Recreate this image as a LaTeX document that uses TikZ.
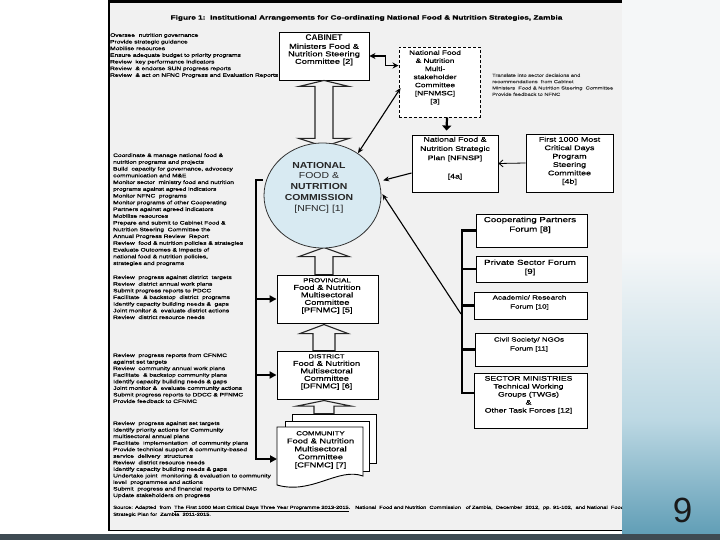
\documentclass[tikz,border=0pt]{standalone}
\usepackage{fontspec}
\setmainfont{Liberation Sans}
\newfontfamily\sm[FakeStretch=1.33,FakeBold=0.7]{Liberation Sans}
\newfontfamily\cf[FakeStretch=1.2]{Liberation Sans}
\usetikzlibrary{arrows.meta,shapes.geometric,calc}
\definecolor{panel}{HTML}{F1F1F1}
\definecolor{circfill}{HTML}{D8EAF2}
\definecolor{tealA}{HTML}{5C9BB4}
\definecolor{tealB}{HTML}{BCD8E3}
\definecolor{tealC}{HTML}{F5F7F8}
\definecolor{stripc}{HTML}{3E4B53}
\tikzset{
  frame/.style={draw=black,line width=0.9pt,fill=white,inner sep=0},
  lt/.style={anchor=north west,inner sep=0,align=left},
  bt/.style={inner sep=0,align=center},
  blk/.style={draw=black!85,line width=1.1pt,fill=panel,line join=miter},
  brk/.style={line width=2.7pt},
  arr/.style={line width=1.1pt,-{Stealth[length=6pt,width=5pt]}},
  darr/.style={line width=1.1pt,{Stealth[length=6pt,width=5pt]}-{Stealth[length=6pt,width=5pt]}},
  harr/.style={line width=2pt,-{Triangle[length=7pt,width=7pt]}},
}
\begin{document}
\begin{tikzpicture}[x=1pt,y=-1pt]
\useasboundingbox (0,0) rectangle (720,540);
\fill[white] (0,0) rectangle (720,540);
\fill[tealC] (622,0) rectangle (720,250);
\shade[top color=tealC,bottom color=tealB] (622,250) rectangle (720,420.5);
\shade[top color=tealB,bottom color=tealA] (622,420) rectangle (720,540);
% panel
\fill[panel] (108,0) rectangle (622,530);
\fill[black] (108,0) rectangle (622,3.5);
\draw[line width=1.2pt] (109,0) -- (109,530);
\draw[line width=0.8pt] (108,530) -- (622,530);
\fill[stripc] (0,534) rectangle (720,540);
\node[anchor=base,inner sep=0,font=\fontsize{35}{35}\selectfont,text=black!90] (pnum) at (682.5,522) {9};

% title
\node[bt,font=\sm\bfseries\fontsize{6.2}{7}\selectfont] (title) at (366.5,18) {Figure 1:\ \ Institutional Arrangements for Co-ordinating National Food \& Nutrition Strategies, Zambia};

% left text blocks
\node[lt,font=\sm\fontsize{4.95}{6.67}\selectfont] (gov) at (110,33) {Oversee\ \ nutrition governance\\Provide strategic guidance\\Mobilise resources\\Ensure adequate budget to priority programs\\Review\ \ key performance indicators\\Review\ \ \& endorse SUN progress reports\\Review\ \ \& act on NFNC Progress and Evaluation Reports};
\node[lt,font=\sm\fontsize{4.95}{6.75}\selectfont] (natl) at (113,153.2) {Coordinate \& manage national food \&\\nutrition programs and projects\\Build\ \ capacity for governance, advocacy\\communication and M\&E\\Monitor sector\ \ ministry food and nutrition\\programs against agreed indicators\\Monitor NFNC\ \ programs\\Monitor programs of other Cooperating\\Partners against agreed indicators\\Mobilise resources\\Prepare and submit to Cabinet Food \&\\Nutrition Steering\ \ Committee the\\Annual Progress Review\ \ Report\\Review\ \ food \& nutrition policies \& strategies\\Evaluate Outcomes \& Impacts of\\national food \& nutrition policies,\\strategies and programs};
\node[lt,font=\sm\fontsize{4.95}{6.67}\selectfont] (provtxt) at (113,275.2) {Review\ \ progress against district\ \ targets\\Review\ \ district annual work plans\\Submit progress reports to PDCC\\Facilitate\ \ \& backstop\ \ district\ \ programs\\Identify capacity building needs \&\ \ gaps\\Joint monitor \&\ \ evaluate district actions\\Review\ \ district resource needs};
\node[lt,font=\sm\fontsize{4.95}{6.57}\selectfont] (disttxt) at (113,353.2) {Review\ \ progress reports from CFNMC\\against set targets\\Review\ \ community annual work plans\\Facilitate\ \ \& backstop community plans\\Identify capacity building needs \& gaps\\Joint monitor \&\ \ evaluate community actions\\Submit progress reports to DDCC \& PFNMC\\Provide feedback to CFNMC};
\node[lt,font=\sm\fontsize{4.95}{6.55}\selectfont] (commtxt) at (113,421.2) {Review\ \ progress against set targets\\Identify priority actions for Community\\multisectoral annual plans\\Facilitate\ \ implementation\ \ of community plans\\Provide technical support \& community-based\\service\ \ delivery\ \ structures\\Review\ \ district resource needs\\Identify capacity building needs \& gaps\\Undertake joint\ \ monitoring \& evaluation to community\\level\ \ programmes and actions\\Submit\ \ progress and financial reports to DFNMC\\Update stakeholders on progress};
\begin{scope}
\clip (108,0) rectangle (622,530);
\node[lt,font=\sm\fontsize{4.3}{7}\selectfont] (src) at (113,505.5) {Source: Adapted\ \ from\ \ \underline{The First 1000 Most Critical Days Three Year Programme 2013-2015}.\ \ \ National\ \ Food and Nutrition\ \ Commission\ \ \ of Zambia,\ \ December\ \ 2012,\ \ pp. 91-102,\ \ and National\ \ Food and Nutrition\\Strategic Plan for\ \ Zambia\ \ 2011-2015.};
\end{scope}
\node[lt,font=\sm\fontsize{4.3}{6.33}\selectfont,text=black!75] (trans) at (492,73.5) {Translate into sector decisions and\\recommendations\ \ from Cabinet\\Ministers\ \ Food \& Nutrition Steering\ \ Committee\\Provide feedback to NFNC};

% boxes
\node[frame,minimum width=90,minimum height=48] (cab) at (324,56) {};
\node[frame,dashed,dash pattern=on 3pt off 2pt,minimum width=81,minimum height=70] (nfnmsc) at (439.5,82) {};
\node[frame,minimum width=86,minimum height=57] (nfnsp) at (455,163.5) {};
\node[frame,minimum width=87,minimum height=58] (first) at (569.5,163) {};
\node[frame,minimum width=111,minimum height=33] (coop) at (531.5,230.5) {};
\node[frame,minimum width=111,minimum height=26] (priv) at (531.5,269) {};
\node[frame,minimum width=113,minimum height=27] (acad) at (530.5,305.5) {};
\node[frame,minimum width=112,minimum height=33] (civil) at (531,349.5) {};
\node[frame,minimum width=113,minimum height=55] (sect) at (530.5,400.5) {};
\node[frame,minimum width=101,minimum height=48] (prov) at (327.5,299) {};
\node[frame,minimum width=101,minimum height=48] (dist) at (327.5,375) {};
% community multi-document
\node[frame,minimum width=84,minimum height=49] (commback) at (334,438.5) {};
\node[frame,minimum width=84,minimum height=50] (commmid) at (327,446) {};
\draw[line width=0.9pt,fill=white] (277,427) -- (363,427) -- (363,476) .. controls (338,467) and (312,495) .. (277,485) -- cycle;
\coordinate (commw) at (277,459);

% block arrows
\draw[blk] (cab.south) -- ++(25,6) -- ++(-16,0) -- ++(0,52) -- ++(16,0) -- ++(-25,8) -- ++(-25,-8) -- ++(16,0) -- ++(0,-52) -- ++(-16,0) -- cycle;
\draw[blk] ($(prov.north)+(-12.5,0)$) -- ++(0,-18) -- ++(-16,0) -- ++(25,-9) -- ++(25,9) -- ++(-16,0) -- ++(0,18) -- cycle;
\draw[blk] ($(dist.north)+(-14.5,0)$) -- ++(0,-17) -- ++(-13,0) -- ++(24,-9) -- ++(24,9) -- ++(-13,0) -- ++(0,17) -- cycle;
\draw[blk] ($(commback.north)+(-20,0)$) -- ++(0,-7.5) -- ++(-17,0) -- ++(27,-5.5) -- ++(27,5.5) -- ++(-17,0) -- ++(0,7.5) -- cycle;

% circle
\node[ellipse,draw=black!80,line width=0.8pt,fill=circfill,minimum width=117,minimum height=105,inner sep=0] (nfnc) at (322.5,195.5) {};

% connectors
\draw[line width=1.3pt,{Stealth[length=6pt,width=6pt]}-{Stealth[length=6pt,width=6pt]}] (cab.east) -- ++(16,0) |- ($(nfnmsc.north west)+(0,19)$);
\draw[darr] (nfnc.50) -- ($(nfnmsc.west)+(2,6)$);
\draw[arr,shorten >=4pt] ($(nfnsp.west)+(0,9.5)$) -- (nfnc.14);
\draw[line width=0.8pt,-{Straight Barb[length=4pt,width=7pt]}] (first.west) -- (nfnsp.east);
\draw[line width=2.2pt,-{Triangle[length=5pt,width=9pt]}] ($(nfnmsc.south)+(7.5,0)$) -- ($(nfnsp.north west)+(35,-4)$);

% right bracket
\coordinate (brx) at (462,0);
\coordinate (sectb) at ($(sect.west)+(0,-7.5)$);
\draw[brk] (coop.west) -| (brx |- sectb) -- (sectb);
\draw[brk] (brx |- priv.west) -- (priv.west);
\draw[brk] (brx |- acad.west) -- (acad.west);
\draw[brk] (brx |- civil.west) -- (civil.west);
\coordinate (brj) at (461,314);
\draw[arr,shorten >=2pt] (brj) -- (nfnc.3);

% left bracket
\coordinate (lbt) at (263,180);
\coordinate (lbx) at (256,180);
\draw[brk,-{Triangle[length=7pt,width=7pt]}] (lbt) -- (lbx) |- (commw);
\draw[harr] (lbx |- prov.west) -- (prov.west);
\draw[harr] (lbx |- dist.west) -- (dist.west);

% box texts
\node[bt,font=\bfseries\fontsize{8.3}{9}\selectfont] (cabh) at (324,37.5) {CABINET};
\node[bt,font=\sm\fontsize{7}{7.5}\selectfont] (cabt) at (324,54.5) {Ministers Food \&\\Nutrition Steering\\Committee [2]};
\node[bt,font=\sm\fontsize{6.25}{8.1}\selectfont] (nfnmsct) at (435,77.5) {National Food\\\& Nutrition\\Multi-\\stakeholder\\Committee\\{[NFNMSC]}\\{[3]}};
\node[bt,font=\sm\fontsize{6.6}{9.2}\selectfont] (nfnspt) at (455,158.4) {National Food \&\\Nutrition Strategic\\Plan [NFNSP]\\[9.2pt]{[4a]}};
\node[bt,font=\sm\fontsize{6.7}{8.4}\selectfont] (firstt) at (569.5,161) {First 1000 Most\\Critical Days\\Program\\Steering\\Committee\\{[4b]}};
\node[bt,font=\sm\fontsize{7.3}{9.5}\selectfont] (coopt) at (530,225) {Cooperating Partners\\Forum [8]};
\node[bt,font=\sm\fontsize{7.3}{9}\selectfont] (privt) at (530,267.5) {Private Sector Forum\\{[9]}};
\node[bt,font=\sm\fontsize{6}{9}\selectfont] (acadt) at (529.5,302.5) {Academic/ Research\\Forum [10]};
\node[bt,font=\sm\fontsize{6}{9}\selectfont] (civilt) at (529,344.5) {Civil Society/ NGOs\\Forum [11]};
\node[bt,font=\sm\fontsize{6.5}{8}\selectfont] (sectt) at (528.5,395) {SECTOR MINISTRIES\\Technical Working\\Groups (TWGs)\\\&\\Other Task Forces [12]};
\node[bt,font=\sm\fontsize{7}{7.5}\selectfont] (provt) at (327,296) {{\fontsize{5.9}{7.5}\selectfont PROVINCIAL}\\Food \& Nutrition\\Multisectoral\\Committee\\{[PFNMC] [5]}};
\node[bt,font=\sm\fontsize{7}{7.5}\selectfont] (distt) at (326.5,372) {{\fontsize{5.9}{7.5}\selectfont DISTRICT}\\Food \& Nutrition\\Multisectoral\\Committee\\{[DFNMC] [6]}};
\node[bt,font=\sm\fontsize{7}{8}\selectfont] (commt) at (320.5,450) {{\fontsize{5.9}{8}\selectfont COMMUNITY}\\Food \& Nutrition\\Multisectoral\\Committee\\{[CFNMC] [7]}};
\node[bt,font=\cf\fontsize{8.7}{10.75}\selectfont,text=black!85] (nfnct) at (319,187.5) {\textbf{NATIONAL}\\FOOD \&\\\textbf{NUTRITION}\\\textbf{COMMISSION}\\{[NFNC] [1]}};
\end{tikzpicture}
\end{document}
